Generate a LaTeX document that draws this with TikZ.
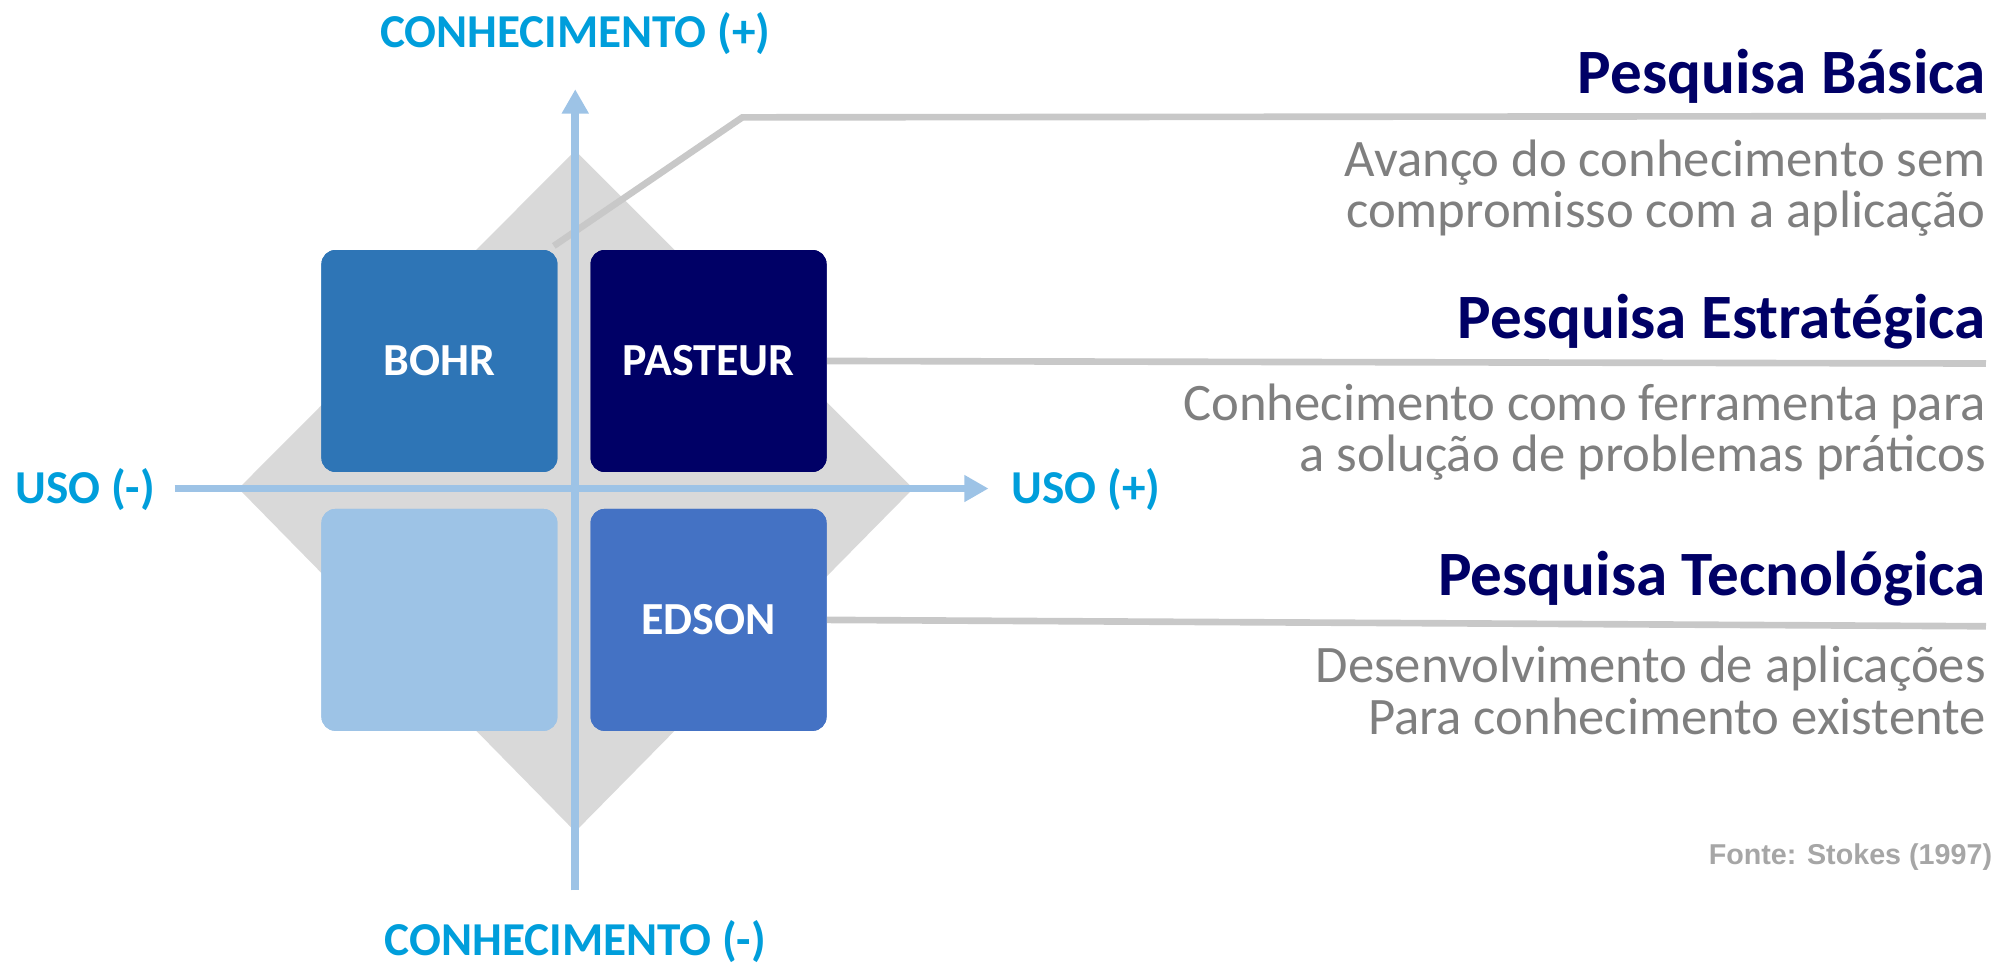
\documentclass[tikz,border=0pt]{standalone}
\usepackage{fontspec}
\setmainfont{Carlito}
\newfontfamily\arialfont{Liberation Sans}
\usetikzlibrary{arrows.meta}
\definecolor{axisblue}{RGB}{157,195,230}
\definecolor{labelblue}{RGB}{0,158,219}
\definecolor{diamondgray}{RGB}{217,217,217}
\definecolor{leadergray}{RGB}{200,200,200}
\definecolor{bohrblue}{RGB}{46,117,182}
\definecolor{navy}{RGB}{0,0,102}
\definecolor{edsonblue}{RGB}{68,114,196}
\definecolor{bodygray}{RGB}{127,127,127}
\definecolor{fontegray}{RGB}{166,166,166}
\tikzset{
  qbox/.style={rounded corners=11pt, minimum width=185pt, minimum height=174pt, inner sep=0pt,
    text=white, font=\fontsize{36}{40}\selectfont\bfseries},
  axisline/.style={draw=axisblue, line width=6pt, -{Triangle[length=19pt,width=20pt]}},
  axislabel/.style={text=labelblue, inner sep=0pt, font=\fontsize{37}{40}\selectfont\bfseries},
  leader/.style={draw=leadergray, line width=5.2pt},
  heading/.style={text=navy, inner sep=0pt, anchor=base east, font=\fontsize{49.5}{52}\selectfont\bfseries},
  bodytext/.style={text=bodygray, inner sep=0pt, anchor=base east, font=\fontsize{41.3}{44}\selectfont},
}
\begin{document}
\begin{tikzpicture}[x=1pt,y=-1pt]
\useasboundingbox (0,0) rectangle (1568,758);
% diamond
\fill[diamondgray] (451,118) -- (716,383) -- (451,652) -- (187,383) -- cycle;
% boxes (positions)
\node[qbox, fill=bohrblue] (bohr) at (344.5,283) {BOHR};
\node[qbox, fill=navy] (pasteur) at (555.5,283) {PASTEUR};
\node[qbox, fill=axisblue] (empty) at (344.5,486) {};
\node[qbox, fill=edsonblue] (edson) at (555.5,486) {EDSON};
% leader lines
\coordinate (bend1) at (582,92);
\coordinate (end1) at (1557,91);
\coordinate (end2) at (1557,285);
\coordinate (end3) at (1557,491);
\draw[leader] ([xshift=-3pt,yshift=3pt]bohr.north east) -- (bend1) -- (end1);
\draw[leader] (pasteur.east) -- (end2);
\draw[leader] (edson.east) -- (end3);
% axes
\coordinate (vtop) at (451,70);
\coordinate (vbot) at (451,698);
\coordinate (hleft) at (137,383);
\coordinate (hright) at (775,383);
\draw[axisline] (vbot) -- (vtop);
\draw[axisline] (hleft) -- (hright);
% redraw boxes on top
\node[qbox, fill=bohrblue] at (bohr) {BOHR};
\node[qbox, fill=navy] at (pasteur) {PASTEUR};
\node[qbox, fill=axisblue] at (empty) {};
\node[qbox, fill=edsonblue] at (edson) {EDSON};
% axis labels
\node[axislabel, anchor=base] (ktop) at (451,37) {CONHECIMENTO (+)};
\node[axislabel, anchor=base] (kbot) at (451,749) {CONHECIMENTO (-)};
\node[axislabel, anchor=base west] (uminus) at (12,395) {USO (-)};
\node[axislabel, anchor=base west] (uplus) at (793,395) {USO (+)};
% right texts
\node[heading] (h1) at (1557,73) {Pesquisa Básica};
\node[bodytext] (b1a) at (1557,138) {Avanço do conhecimento sem};
\node[bodytext] (b1b) at (1557,178) {compromisso com a aplicação};
\node[heading] (h2) at (1557,265) {Pesquisa Estratégica};
\node[bodytext] (b2a) at (1557,330) {Conhecimento como ferramenta para};
\node[bodytext] (b2b) at (1557,370) {a solução de problemas práticos};
\node[heading] (h3) at (1557,467) {Pesquisa Tecnológica};
\node[bodytext] (b3a) at (1557,535) {Desenvolvimento de aplicações};
\node[bodytext] (b3b) at (1557,576) {Para conhecimento existente};
\node[text=fontegray, inner sep=0pt, anchor=base east, font=\arialfont\fontsize{22.5}{24}\selectfont\bfseries] (fonte) at (1562,678) {Fonte: Stokes (1997)};
\end{tikzpicture}
\end{document}
